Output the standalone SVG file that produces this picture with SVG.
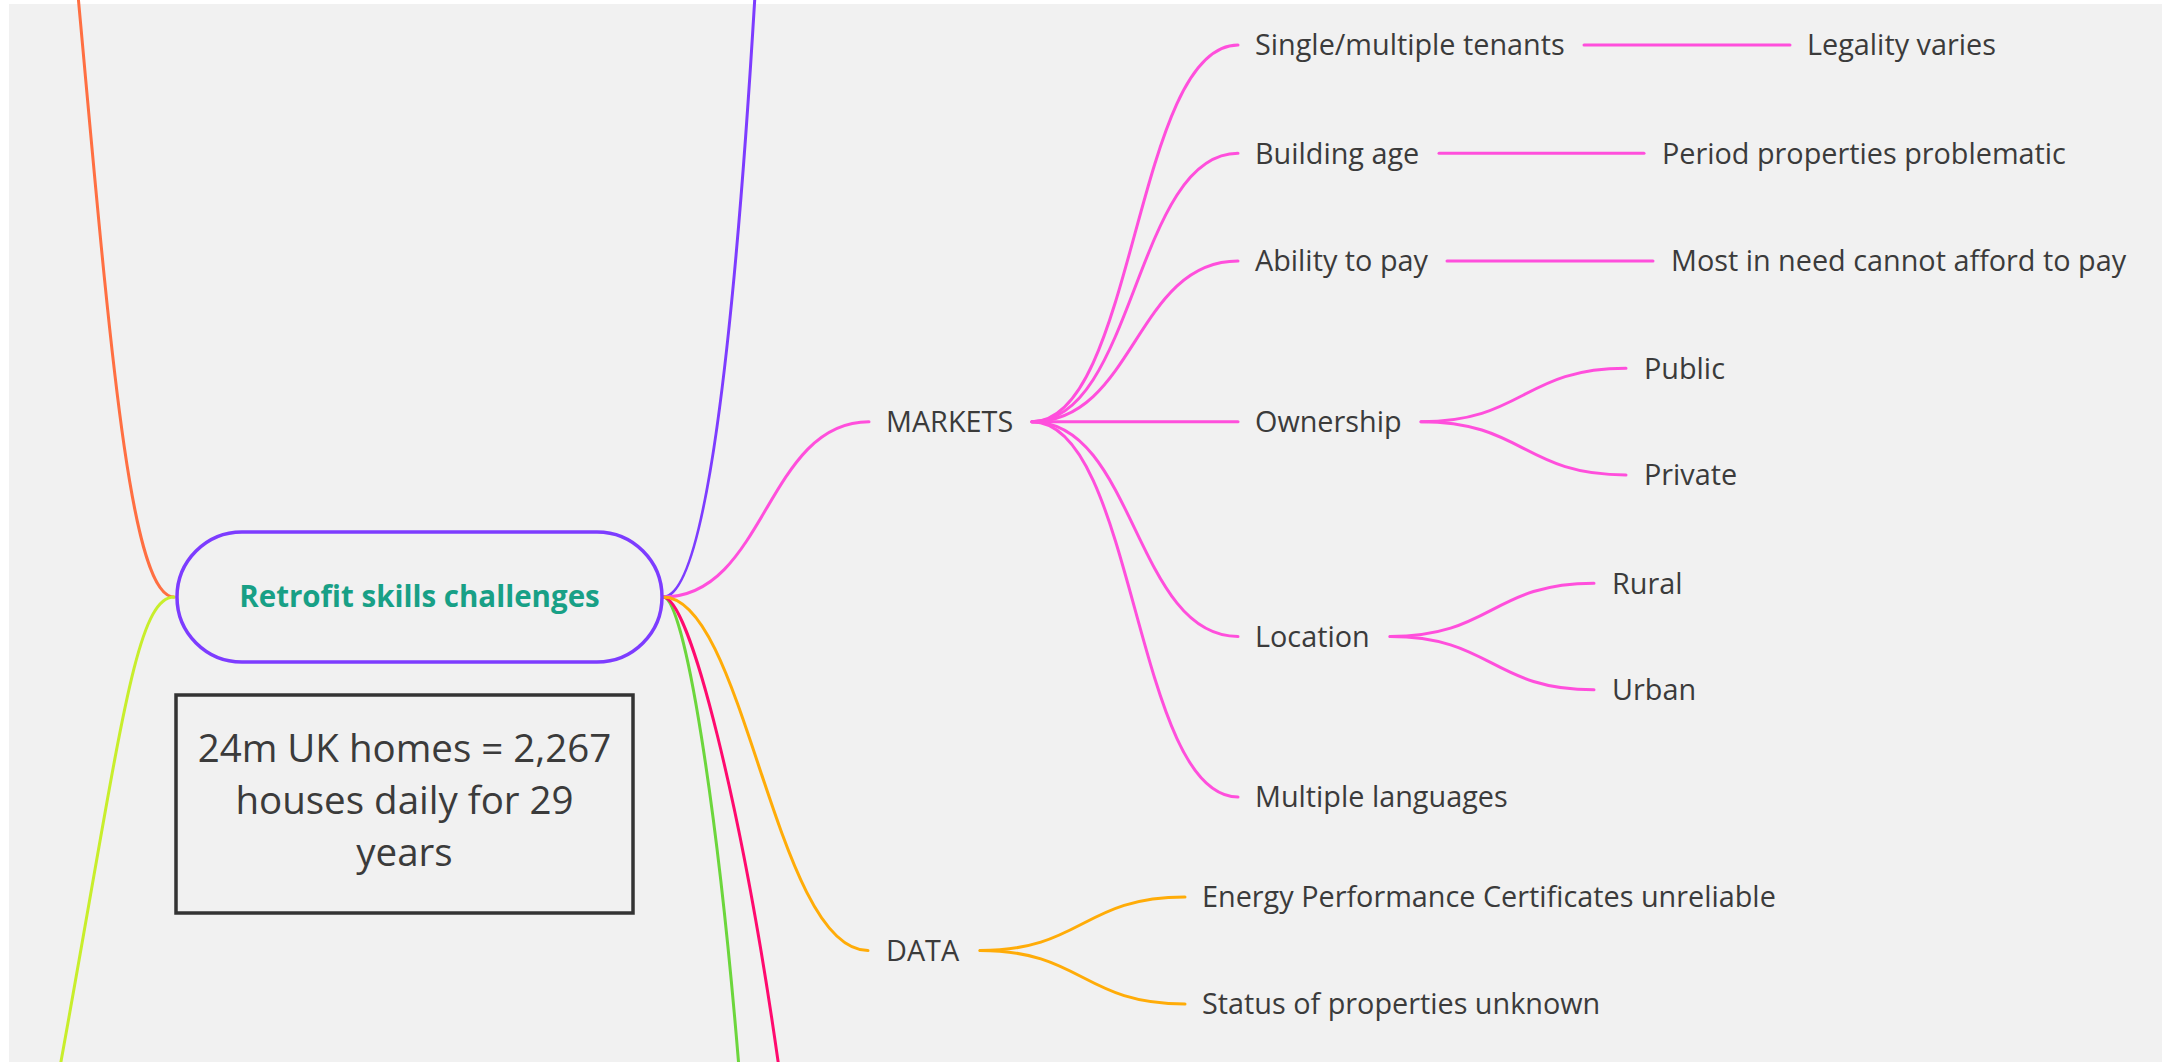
<svg xmlns="http://www.w3.org/2000/svg" width="2162" height="1062" viewBox="0 0 2162 1062">
<defs>
<style>
.lbl{font-family:"Open Sans","Noto Sans","Liberation Sans",sans-serif;font-size:28.8px;fill:#3b3b3b}
.title{font-family:"Open Sans","Noto Sans","Liberation Sans",sans-serif;font-size:29.5px;font-weight:700;fill:#18a086}
.note{font-family:"Open Sans","Noto Sans","Liberation Sans",sans-serif;font-size:38.5px;fill:#3b3b3b}
.c{fill:none;stroke-width:3;stroke-linecap:round}
.pk{stroke:#ff4fdc}
.pu{stroke:#7d3cff}
.or{stroke:#ff6f42}
.yg{stroke:#c8ee2c}
.gr{stroke:#6cd63c}
.cr{stroke:#ff0a6e}
.am{stroke:#ffac08}
</style>
</defs>
<rect x="0" y="0" width="2162" height="1062" fill="#ffffff"/>
<rect x="9" y="4" width="2153" height="1058" fill="#f1f1f1"/>

<g id="connectors">
<path class="c or" d="M174,597 C130,597 110,345 78,-5"/>
<path class="c yg" d="M174,597 C135,597 120,737 60,1067"/>
<path class="c pu" d="M663,597 C705,597 734,345 755,-5"/>
<path class="c gr" d="M663,597 C685,597 718,812 739,1068"/>
<path class="c cr" d="M663,597 C690,597 743,812 779,1068"/>
<path class="c pk" d="M663,597 C766,597 766,421.7 869,421.7"/>
<path class="c am" d="M663,597 C745,597 775,950.5 868,950.5"/>
<!-- MARKETS children -->
<path class="c pk" d="M1032,421.7 C1135,421.7 1135,45 1238,45"/>
<path class="c pk" d="M1032,421.7 C1135,421.7 1135,153.3 1238,153.3"/>
<path class="c pk" d="M1032,421.7 C1135,421.7 1135,261 1238,261"/>
<path class="c pk" d="M1032,421.7 L1238,421.7"/>
<path class="c pk" d="M1032,421.7 C1135,421.7 1135,636.5 1238,636.5"/>
<path class="c pk" d="M1032,421.7 C1135,421.7 1135,797 1238,797"/>
<!-- level 3 -->
<path class="c pk" d="M1584,45 L1790,45"/>
<path class="c pk" d="M1439,153.3 L1644,153.3"/>
<path class="c pk" d="M1447,261 L1653,261"/>
<path class="c pk" d="M1421,421.7 C1523.5,421.7 1523.5,368.3 1626,368.3"/>
<path class="c pk" d="M1421,421.7 C1523.5,421.7 1523.5,475 1626,475"/>
<path class="c pk" d="M1390,636.5 C1492,636.5 1492,583.2 1594,583.2"/>
<path class="c pk" d="M1390,636.5 C1492,636.5 1492,689.8 1594,689.8"/>
<!-- DATA children -->
<path class="c am" d="M980,950.5 C1082.5,950.5 1082.5,897 1185,897"/>
<path class="c am" d="M980,950.5 C1082.5,950.5 1082.5,1004 1185,1004"/>
</g>

<g id="central">
<rect x="177" y="532" width="485" height="130" rx="65" ry="65" fill="none" stroke="#7d3cff" stroke-width="3.5"/>
<text class="title" x="419.5" y="606.5" text-anchor="middle">Retrofit skills challenges</text>
</g>

<g id="note">
<rect x="176" y="695" width="457" height="218" fill="none" stroke="#333333" stroke-width="3.5"/>
<text class="note" text-anchor="middle"><tspan x="404.5" y="761.5">24m UK homes = 2,267</tspan><tspan x="404.5" y="814">houses daily for 29</tspan><tspan x="404.5" y="866">years</tspan></text>
</g>

<g id="markets"><text class="lbl" x="886" y="432">MARKETS</text></g>
<g id="data"><text class="lbl" x="886" y="961">DATA</text></g>

<g id="tenants"><text class="lbl" x="1255" y="55.3">Single/multiple tenants</text></g>
<g id="legality"><text class="lbl" x="1807" y="55.3">Legality varies</text></g>
<g id="building-age"><text class="lbl" x="1255" y="163.6">Building age</text></g>
<g id="period"><text class="lbl" x="1662" y="163.6">Period properties problematic</text></g>
<g id="ability"><text class="lbl" x="1255" y="271.3">Ability to pay</text></g>
<g id="most-in-need"><text class="lbl" x="1671" y="271.3">Most in need cannot afford to pay</text></g>
<g id="ownership"><text class="lbl" x="1255" y="432">Ownership</text></g>
<g id="public"><text class="lbl" x="1644" y="378.6">Public</text></g>
<g id="private"><text class="lbl" x="1644" y="485.3">Private</text></g>
<g id="location"><text class="lbl" x="1255" y="646.8">Location</text></g>
<g id="rural"><text class="lbl" x="1612" y="593.5">Rural</text></g>
<g id="urban"><text class="lbl" x="1612" y="700.1">Urban</text></g>
<g id="languages"><text class="lbl" x="1255" y="807.3">Multiple languages</text></g>
<g id="epc"><text class="lbl" x="1202" y="907.3">Energy Performance Certificates unreliable</text></g>
<g id="status"><text class="lbl" x="1202" y="1014.3">Status of properties unknown</text></g>
</svg>
